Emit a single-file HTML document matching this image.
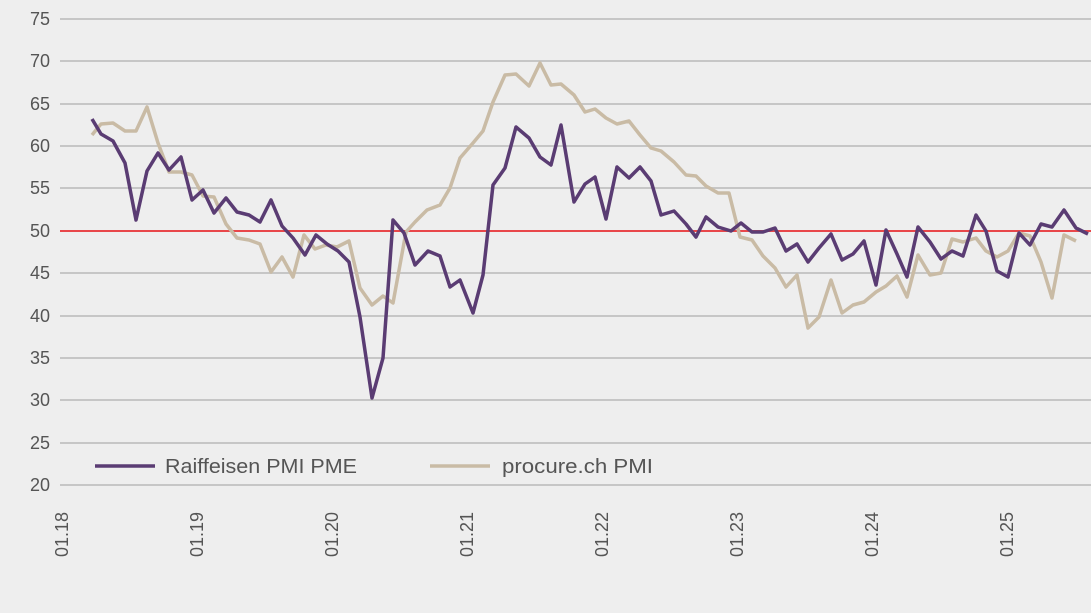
<!DOCTYPE html><html><head><style>body{margin:0;background:#eeeeee}svg{display:block;font-family:"Liberation Sans",sans-serif}</style></head><body>
<svg width="1091" height="613" xmlns="http://www.w3.org/2000/svg">
<rect width="1091" height="613" fill="#eeeeee"/>
<g stroke="#c6c6c6" stroke-width="2">
<line x1="60" x2="1091" y1="19" y2="19"/><line x1="60" x2="1091" y1="61" y2="61"/><line x1="60" x2="1091" y1="104" y2="104"/><line x1="60" x2="1091" y1="146" y2="146"/><line x1="60" x2="1091" y1="188" y2="188"/><line x1="60" x2="1091" y1="273" y2="273"/><line x1="60" x2="1091" y1="316" y2="316"/><line x1="60" x2="1091" y1="358" y2="358"/><line x1="60" x2="1091" y1="400" y2="400"/><line x1="60" x2="1091" y1="443" y2="443"/><line x1="60" x2="1091" y1="485" y2="485"/>
</g>
<line x1="60" x2="1091" y1="231" y2="231" stroke="#e8474a" stroke-width="2"/>
<g fill="#555" font-size="18" text-anchor="end">
<text x="50" y="25">75</text><text x="50" y="67">70</text><text x="50" y="110">65</text><text x="50" y="152">60</text><text x="50" y="194">55</text><text x="50" y="237">50</text><text x="50" y="279">45</text><text x="50" y="322">40</text><text x="50" y="364">35</text><text x="50" y="406">30</text><text x="50" y="449">25</text><text x="50" y="491">20</text>
</g>
<g fill="#555" font-size="18" text-anchor="end">
<text transform="translate(68,512) rotate(-90)">01.18</text>
<text transform="translate(203,512) rotate(-90)">01.19</text>
<text transform="translate(338,512) rotate(-90)">01.20</text>
<text transform="translate(473,512) rotate(-90)">01.21</text>
<text transform="translate(608,512) rotate(-90)">01.22</text>
<text transform="translate(743,512) rotate(-90)">01.23</text>
<text transform="translate(878,512) rotate(-90)">01.24</text>
<text transform="translate(1013,512) rotate(-90)">01.25</text>
</g>
<polyline fill="none" stroke="#c9bba5" stroke-width="3.5" stroke-linejoin="round" points="92,135 101,124 113,123 125,131 136,131 147,107 158,143 169,172 181,172 192,175 203,196 214,197 226,224 237,238 249,240 260,244 271,272 282,257 293,277 304,235 315,249 326,245 337,247 349,241 360,288 372,305 383,296 393,303 406,232 415,222 427,210 440,205 450,188 460,158 473,143 483,131 493,102 505,75 516,74 529,86 540,63 551,85 561,84 574,95 585,112 595,109 606,118 617,124 629,121 640,135 651,148 661,151 674,162 686,175 696,176 706,186 718,193 729,193 740,237 752,240 763,256 775,268 786,287 797,275 808,328 819,317 831,280 842,313 853,305 864,302 876,292 886,286 897,276 907,297 918,255 930,275 941,273 952,239 963,242 976,238 986,251 997,257 1008,251 1019,233 1030,236 1041,262 1052,298 1064,235 1076,241"/>
<polyline fill="none" stroke="#5a3c73" stroke-width="3.5" stroke-linejoin="round" points="92,119 101,134 113,141 125,163 136,220 147,171 158,153 169,170 181,157 192,200 203,190 214,213 226,198 237,212 249,215 260,222 271,200 282,226 293,238 305,255 316,235 327,244 338,251 349,262 360,317 372,398 383,358 393,220 404,233 415,265 428,251 440,256 450,287 460,280 473,313 483,275 493,185 505,168 516,127 529,138 540,157 551,165 561,125 574,202 585,184 595,177 606,219 617,167 629,178 640,167 651,181 661,215 674,211 686,224 696,237 706,217 718,227 731,231 741,223 752,232 763,232 775,228 786,251 797,244 808,262 819,248 831,234 842,260 853,254 864,241 876,285 886,230 897,254 907,277 918,227 930,242 941,259 952,251 963,256 976,215 986,231 997,271 1008,277 1019,233 1030,245 1041,224 1052,227 1064,210 1076,228 1088,234"/>
<line x1="95" x2="155" y1="466" y2="466" stroke="#5a3c73" stroke-width="3.5"/>
<text x="165" y="473" fill="#555" font-size="20" textLength="192" lengthAdjust="spacingAndGlyphs">Raiffeisen PMI PME</text>
<line x1="430" x2="490" y1="466" y2="466" stroke="#c9bba5" stroke-width="3.5"/>
<text x="502" y="473" fill="#555" font-size="20" textLength="151" lengthAdjust="spacingAndGlyphs">procure.ch PMI</text>
</svg></body></html>
